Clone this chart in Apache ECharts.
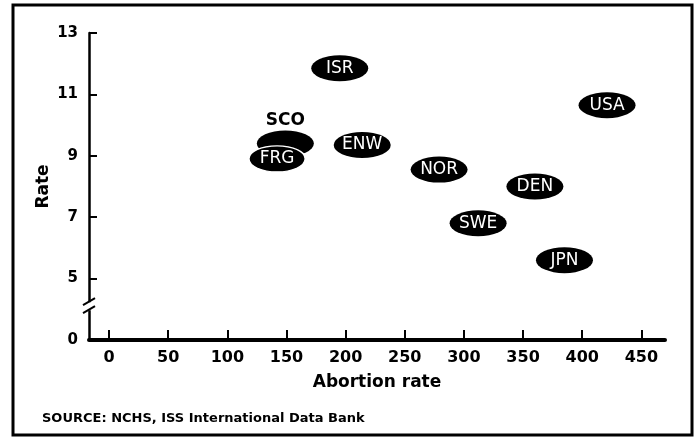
<!DOCTYPE html>
<html>
<head>
<meta charset="utf-8">
<script src="https://cdn.jsdelivr.net/npm/echarts@6/dist/echarts.min.js"></script>
<style>
  html, body { margin: 0; padding: 0; background: #fff; }
  #chart { width: 695px; height: 439px; }
</style>
</head>
<body>
<div id="chart"></div>
<script>
// values
const countries = ['SCO', 'FRG', 'ISR', 'ENW', 'NOR', 'DEN', 'SWE', 'JPN', 'USA'];
const abortionRate = [149, 142, 195, 214, 279, 360, 312, 385, 421];
const rate = [9.4, 8.9, 11.85, 9.35, 8.55, 8.0, 6.8, 5.6, 10.65];
const xTicks = [0, 50, 100, 150, 200, 250, 300, 350, 400, 450];
const yTicks = [5, 7, 9, 11, 13];
const yBottom = 3; // bottom of the broken axis, labelled 0
const yBreak = 4.1;

const font = 'DejaVu Sans';

let chart = echarts.init(document.getElementById('chart'));

let points = countries.map(function (c, i) {
  let item = { name: c, value: [abortionRate[i], rate[i]] };
  if (c === 'SCO') {
    item.label = { position: 'top', distance: 1, color: '#000', fontWeight: 'bold' };
  }
  if (c === 'FRG') {
    item.itemStyle = { borderColor: '#fff', borderWidth: 1.5 };
  }
  return item;
});

let option = {
  animation: false,
  grid: {
    left: 89,
    right: 30,
    top: 33,
    bottom: 99
  },
  xAxis: {
    type: 'value',
    min: -17,
    max: 470,
    name: 'Abortion rate',
    nameLocation: 'middle',
    nameGap: 34,
    nameTextStyle: { color: '#000', fontSize: 17, fontWeight: 'bold', fontFamily: font },
    axisLine: { show: true, onZero: false, lineStyle: { color: '#000', width: 4 } },
    axisTick: { show: true, inside: true, length: 10, customValues: xTicks, lineStyle: { color: '#000', width: 2 } },
    axisLabel: { customValues: xTicks, color: '#000', fontSize: 16, fontWeight: 'bold', fontFamily: font, margin: 10 },
    splitLine: { show: false }
  },
  yAxis: {
    type: 'value',
    min: yBottom,
    max: 13,
    name: 'Rate',
    nameLocation: 'middle',
    nameGap: 37,
    nameMoveOverlap: false,
    nameTextStyle: { color: '#000', fontSize: 17, fontWeight: 'bold', fontFamily: font },
    axisLine: { show: true, onZero: false, lineStyle: { color: '#000', width: 2.5 } },
    axisTick: { show: true, inside: true, length: 8, customValues: yTicks, lineStyle: { color: '#000', width: 2 } },
    axisLabel: {
      customValues: [yBottom].concat(yTicks),
      color: '#000', fontSize: 15, fontWeight: 'bold', fontFamily: font, margin: 11,
      formatter: function (v) { return v === yBottom ? '0' : String(v); }
    },
    splitLine: { show: false }
  },
  series: [
    {
      type: 'scatter',
      symbol: 'circle',
      symbolSize: [57, 26],
      itemStyle: { color: '#000', opacity: 1 },
      label: {
        show: true,
        position: 'inside',
        formatter: '{b}',
        color: '#fff',
        fontSize: 17,
        fontFamily: font
      },
      emphasis: { disabled: true },
      data: points
    }
  ]
};

chart.setOption(option);

// axis break mark and frame
let bp = chart.convertToPixel({ yAxisIndex: 0 }, yBreak);
let ax = chart.convertToPixel({ xAxisIndex: 0 }, -17);
chart.setOption({
  graphic: [
    {
      type: 'rect',
      shape: { x: 13, y: 5, width: 679, height: 430 },
      style: { fill: 'none', stroke: '#000', lineWidth: 3 },
      silent: true
    },
    {
      type: 'rect',
      shape: { x: ax - 3, y: bp - 4, width: 6, height: 8 },
      style: { fill: '#fff' },
      z: 100
    },
    {
      type: 'line',
      shape: { x1: ax - 6, y1: bp - 1, x2: ax + 6, y2: bp - 8 },
      style: { stroke: '#000', lineWidth: 2 },
      z: 101
    },
    {
      type: 'line',
      shape: { x1: ax - 6, y1: bp + 7, x2: ax + 6, y2: bp },
      style: { stroke: '#000', lineWidth: 2 },
      z: 101
    },
    {
      type: 'text',
      left: 42,
      top: 412,
      style: {
        text: 'SOURCE: NCHS, ISS International Data Bank',
        fill: '#000',
        font: 'bold 13px ' + font
      }
    }
  ]
});
</script>
</body>
</html>
